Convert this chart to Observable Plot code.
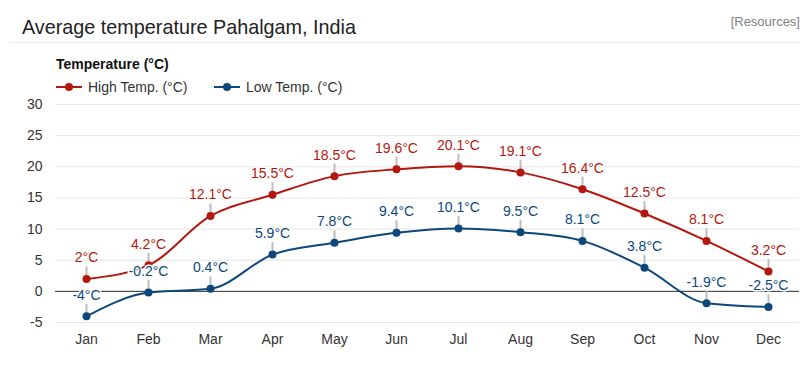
<!DOCTYPE html>
<html><head><meta charset="utf-8">
<script src="https://cdn.jsdelivr.net/npm/d3@7"></script>
<script src="https://cdn.jsdelivr.net/npm/@observablehq/plot@0.6"></script>
<style>
body{margin:0;background:#fff;font-family:"Liberation Sans",Arial,sans-serif;}
#wrap{position:relative;width:809px;height:370px;overflow:hidden;background:#fff}
#head{position:relative;height:95px}
.title{position:absolute;left:22px;top:16px;font-size:19.8px;line-height:22px;color:#222;white-space:nowrap}
.res{position:absolute;right:9px;top:14px;font-size:13px;line-height:15px;color:#808080}
.hr{position:absolute;left:10px;width:790px;top:42px;height:1px;background:#e9e9e9}
.ytitle{position:absolute;left:56px;top:56px;font-size:14px;line-height:16px;font-weight:bold;color:#111}
.leg{position:absolute;top:79px;font-size:14px;line-height:16px;color:#333;white-space:nowrap;display:flex;align-items:center}
.leg svg{margin-right:6px}
#chart svg{display:block}
</style></head>
<body>
<div id="wrap">
  <div id="head">
    <div class="title">Average temperature Pahalgam, India</div>
    <div class="res">[Resources]</div>
    <div class="hr"></div>
    <div class="ytitle">Temperature (°C)</div>
    <div class="leg" style="left:56px" id="leg1"></div>
    <div class="leg" style="left:214px" id="leg2"></div>
  </div>
  <div id="chart"></div>
</div>
<script>
const months = ["Jan","Feb","Mar","Apr","May","Jun","Jul","Aug","Sep","Oct","Nov","Dec"];
const highTemp = [2, 4.2, 12.1, 15.5, 18.5, 19.6, 20.1, 19.1, 16.4, 12.5, 8.1, 3.2];
const lowTemp = [-4, -0.2, 0.4, 5.9, 7.8, 9.4, 10.1, 9.5, 8.1, 3.8, -1.9, -2.5];
const yTicks = [-5, 0, 5, 10, 15, 20, 25, 30];
const seriesNames = ["High Temp. (°C)", "Low Temp. (°C)"];

const RED = "#b3170e";
const BLUE = "#0c477b";

function legendItem(id, color, name) {
  document.getElementById(id).innerHTML =
    `<svg width="26" height="10"><line x1="0" x2="26" y1="5" y2="5" stroke="${color}" stroke-width="2"/><circle cx="13" cy="5" r="4" fill="${color}"/></svg><span>${name}</span>`;
}
legendItem("leg1", RED, seriesNames[0]);
legendItem("leg2", BLUE, seriesNames[1]);

const data = months.map((m, i) => ({month: m, high: highTemp[i], low: lowTemp[i]}));
const fmt = v => v + "°C";

function series(key, color) {
  return [
    Plot.lineY(data, {x: "month", y: key, stroke: color, strokeWidth: 2, curve: "monotone-x"}),
    Plot.ruleX(data, {x: "month", y1: key, y2: key, stroke: "#bdbdbd", strokeWidth: 2, insetTop: -12, insetBottom: 0}),
    Plot.dot(data, {x: "month", y: key, r: 4, fill: color})
  ];
}
function labels(key, color) {
  return Plot.text(data, {x: "month", y: key, text: d => fmt(d[key]), dy: -21, fill: color,
    stroke: "white", strokeWidth: 3, fontSize: 14});
}

const chart = Plot.plot({
  width: 809, height: 275,
  marginLeft: 55, marginRight: 10, marginTop: 9, marginBottom: 48,
  style: {fontFamily: "'Liberation Sans', Arial, sans-serif", fontSize: "14px", color: "#333", background: "white", overflow: "visible"},
  x: {type: "point", domain: months, padding: 0.5, label: null},
  y: {domain: [-5, 30], label: null},
  marks: [
    Plot.ruleY(yTicks, {stroke: "#e6e6e6"}),
    Plot.ruleY([0], {stroke: "#333"}),
    Plot.axisY(yTicks, {tickSize: 0, tickPadding: 13, tickFormat: d => String(d), fontSize: 14, label: null}),
    Plot.axisX({tickSize: 0, tickPadding: 12, fontSize: 14, label: null}),
    ...series("high", RED),
    ...series("low", BLUE),
    labels("high", RED),
    labels("low", BLUE)
  ]
});
document.getElementById("chart").appendChild(chart);
</script>
</body></html>
